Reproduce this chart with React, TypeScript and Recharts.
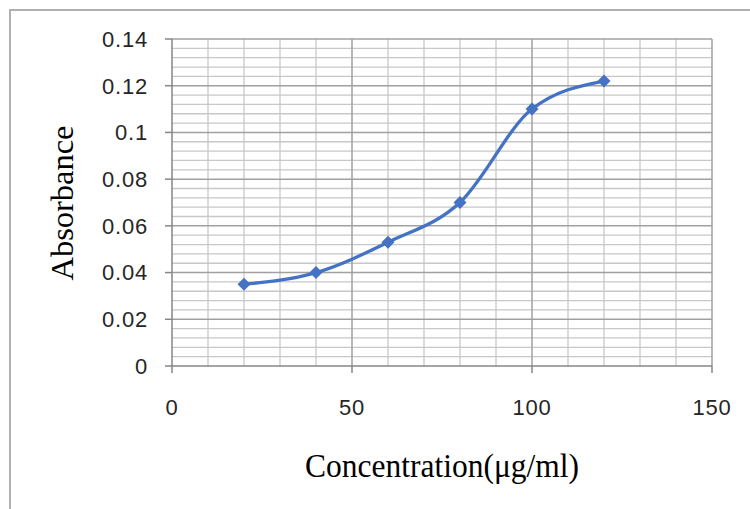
import { LineChart, Line, XAxis, YAxis, ReferenceLine, Label } from "recharts";

const concentration = [20, 40, 60, 80, 100, 120];
const absorbance = [0.035, 0.04, 0.053, 0.07, 0.11, 0.122];
const xTicks = [0, 50, 100, 150];
const yTicks = [0, 0.02, 0.04, 0.06, 0.08, 0.1, 0.12, 0.14];
const xMinorGrid = [10, 20, 30, 40, 60, 70, 80, 90, 110, 120, 130, 140];
const xMajorGrid = [50, 100, 150];
// minor horizontal lines every 0.004 between the major ticks
const yMinorGrid = yTicks
  .slice(0, -1)
  .flatMap((t) => [1, 2, 3, 4].map((k) => +(t + k * 0.004).toFixed(3)));
const yMajorGrid = yTicks.slice(1);

const data = concentration.map((c, i) => ({ conc: c, abs: absorbance[i] }));

const BLUE = "#4472C4";
const MINOR = "#c8c8c8";
const MAJOR = "#a0a0a0";
const AXIS = "#868686";
const tickStyle = { fill: "#262626", fontSize: 22, fontFamily: "Liberation Sans, Arial, sans-serif", letterSpacing: 0.8 };

const Diamond = (props: any) => {
  const { cx, cy } = props;
  if (cx == null || cy == null) return null;
  const r = 6.5;
  return (
    <polygon
      points={`${cx},${cy - r} ${cx + r},${cy} ${cx},${cy + r} ${cx - r},${cy}`}
      fill={BLUE}
    />
  );
};

export default function App() {
  return (
    <div style={{ position: "absolute", left: 0, top: 0, width: 750, height: 509, overflow: "hidden", background: "#fff" }}>
      {/* outer chart frame, cut off at right and bottom */}
      <div style={{ position: "absolute", left: 9, top: 9, width: 800, height: 600, borderTop: "2px solid #b0b0b0", borderLeft: "2px solid #b0b0b0" }} />
      <div style={{ position: "absolute", left: 0, top: 0 }}>
        <LineChart width={750} height={509} data={data} margin={{ top: 39, right: 38, bottom: 0, left: 0 }}>
          {xMinorGrid.map((v) => (
            <ReferenceLine key={`xm${v}`} x={v} stroke={MINOR} strokeWidth={1.3} />
          ))}
          {yMinorGrid.map((v) => (
            <ReferenceLine key={`ym${v}`} y={v} stroke={MINOR} strokeWidth={1.3} />
          ))}
          {xMajorGrid.map((v) => (
            <ReferenceLine key={`xM${v}`} x={v} stroke={MAJOR} strokeWidth={1.5} />
          ))}
          {yMajorGrid.map((v) => (
            <ReferenceLine key={`yM${v}`} y={v} stroke={MAJOR} strokeWidth={1.5} />
          ))}
          <XAxis
            type="number"
            dataKey="conc"
            domain={[0, 150]}
            ticks={xTicks}
            interval={0}
            height={143}
            tickSize={7}
            tickMargin={26}
            tick={tickStyle}
            axisLine={{ stroke: AXIS, strokeWidth: 1.5 }}
            tickLine={{ stroke: AXIS, strokeWidth: 1.5 }}
          >
            <Label
              content={({ viewBox }: any) => (
                <text
                  x={viewBox.x + viewBox.width / 2}
                  y={477}
                  textAnchor="middle"
                  fontFamily="Liberation Serif, Times New Roman, serif"
                  fontSize={33}
                  fill="#000"
                  textLength={274}
                  lengthAdjust="spacingAndGlyphs"
                >
                  Concentration(μg/ml)
                </text>
              )}
            />
          </XAxis>
          <YAxis
            type="number"
            domain={[0, 0.14]}
            ticks={yTicks}
            interval={0}
            width={172}
            tickSize={7}
            tickMargin={17}
            tick={tickStyle}
            axisLine={{ stroke: AXIS, strokeWidth: 1.5 }}
            tickLine={{ stroke: AXIS, strokeWidth: 1.5 }}
          >
            <Label
              content={() => (
                <text
                  x={73}
                  y={203}
                  transform="rotate(-90 73 203)"
                  textAnchor="middle"
                  fontFamily="Liberation Serif, Times New Roman, serif"
                  fontSize={31}
                  fill="#000"
                  textLength={155}
                  lengthAdjust="spacingAndGlyphs"
                >
                  Absorbance
                </text>
              )}
            />
          </YAxis>
          <Line
            type="monotone"
            dataKey="abs"
            stroke={BLUE}
            strokeWidth={3.3}
            dot={<Diamond />}
            activeDot={false}
            isAnimationActive={false}
          />
        </LineChart>
      </div>
    </div>
  );
}
